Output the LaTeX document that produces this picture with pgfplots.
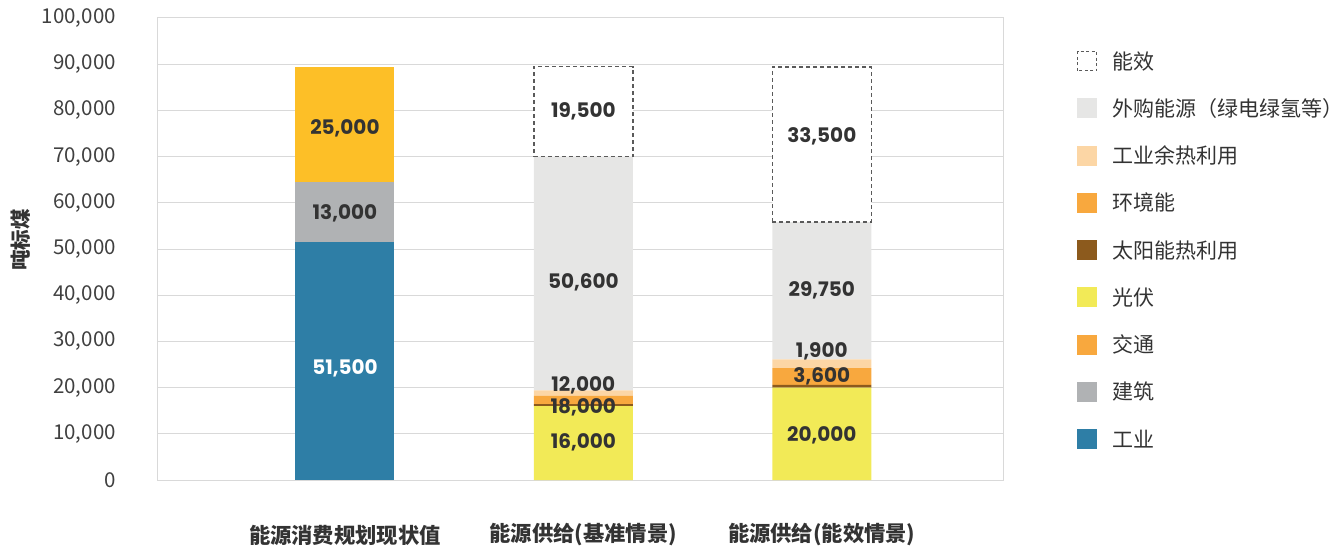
\documentclass[border=0pt]{standalone}
\usepackage{pgfplots}
\pgfplotsset{compat=1.18}
\usepackage{fontspec}
\setmainfont{Noto Sans CJK SC}
\newfontfamily\pop{Poppins}
\definecolor{cInd}{HTML}{2E7EA6}
\definecolor{cBld}{HTML}{B0B2B4}
\definecolor{cTrB}{HTML}{FDBF27}
\definecolor{cTrL}{HTML}{F8A83E}
\definecolor{cPV}{HTML}{F2EA57}
\definecolor{cSol}{HTML}{8C5A1D}
\definecolor{cEnv}{HTML}{F8A83E}
\definecolor{cHeat}{HTML}{FCD6A5}
\definecolor{cBuy}{HTML}{E6E6E5}
\definecolor{cDash}{HTML}{5A5A5A}
\definecolor{gridc}{HTML}{D9D9D9}
\definecolor{tickc}{HTML}{404040}
\definecolor{labc}{HTML}{333333}
\tikzset{lab/.style={font=\pop\bfseries\fontsize{20}{24}\selectfont, text=labc}}
\begin{document}
\begin{tikzpicture}[x=1pt,y=1pt]
\useasboundingbox (-158,-67) rectangle (1185,480);
\pgfplotsset{
  common/.style={
    at={(0pt,0pt)}, anchor=south west,
    scale only axis, width=845pt, height=462pt,
    ybar stacked, bar width=99pt,
    xmin=-0.784, xmax=2.76, ymin=0, ymax=100000,
    scaled ticks=false,
  }
}
\begin{axis}[common,
  xtick={0,1,2},
  xticklabels={能源消费规划现状值, 能源供给(基准情景), 能源供给(能效情景)},
  xticklabel style={anchor=center, yshift=-55pt, font=\bfseries\fontsize{21.3}{24}\selectfont, text=labc},
  ytick={0,10000,...,100000},
  yticklabel style={font=\fontsize{20.5}{24}\selectfont, text=tickc, inner sep=0pt, xshift=-42pt},
  major tick length=0pt,
  axis line style={draw=gridc, line width=1pt},
  ymajorgrids, grid style={gridc, line width=1pt},
  ylabel={吨标煤},
  ylabel style={at={(axis description cs:-0.162,0.52)}, anchor=center, font=\bfseries\fontsize{20.5}{24}\selectfont, text=labc},
  legend style={at={(axis description cs:1.0876,0.9286)}, anchor=north west, draw=none, fill=none,
     inner sep=0pt, font=\fontsize{21}{24}\selectfont, text=labc, row sep=27.25pt,
     nodes={inner sep=0pt, text height=18pt, text depth=2pt},
     /tikz/every odd column/.append style={column sep=15pt}},
  legend cell align=left,
  legend image code/.code={\draw[#1] (0.5pt,-9.5pt) rectangle (19.5pt,9.5pt);},
  /pgf/number format/fixed,
  /pgf/number format/1000 sep={,},
  /pgf/number format/assume math mode=true,
]
% stack: 工业, 建筑, 交通, 光伏, 太阳能热利用, 环境能, 工业余热利用, 外购能源
\addplot[fill=cInd, draw=none, forget plot] coordinates {(0,51500) (1,0) (2,0)};
\addplot[fill=cBld, draw=none, forget plot] coordinates {(0,13000) (1,0) (2,0)};
\addplot[fill=cTrB, draw=none, forget plot] coordinates {(0,25000) (1,0) (2,0)};
\addplot[fill=cPV, draw=none, forget plot] coordinates {(0,0) (1,16000) (2,20000)};
\addplot[fill=cSol, draw=none, forget plot] coordinates {(0,0) (1,400) (2,600)};
\addplot[fill=cEnv, draw=none, forget plot] coordinates {(0,0) (1,1800) (2,3600)};
\addplot[fill=cHeat, draw=none, forget plot] coordinates {(0,0) (1,1200) (2,1900)};
\addplot[fill=cBuy, draw=none, forget plot] coordinates {(0,0) (1,50600) (2,29750)};
\addlegendimage{fill=white, draw=cDash, dash pattern=on 3pt off 2.5pt, line width=1pt}
\addlegendentry{能效}
\addlegendimage{fill=cBuy, draw=cBuy, line width=1pt}
\addlegendentry{外购能源（绿电绿氢等）}
\addlegendimage{fill=cHeat, draw=cHeat, line width=1pt}
\addlegendentry{工业余热利用}
\addlegendimage{fill=cEnv, draw=cEnv, line width=1pt}
\addlegendentry{环境能}
\addlegendimage{fill=cSol, draw=cSol, line width=1pt}
\addlegendentry{太阳能热利用}
\addlegendimage{fill=cPV, draw=cPV, line width=1pt}
\addlegendentry{光伏}
\addlegendimage{fill=cTrL, draw=cTrL, line width=1pt}
\addlegendentry{交通}
\addlegendimage{fill=cBld, draw=cBld, line width=1pt}
\addlegendentry{建筑}
\addlegendimage{fill=cInd, draw=cInd, line width=1pt}
\addlegendentry{工业}
\end{axis}
\begin{axis}[common, hide axis]
\addplot[fill=white, draw=none, opacity=0, forget plot] coordinates {(1,70000) (2,55850)};
\addplot[fill=white, draw=cDash, dash pattern=on 4pt off 3pt, line width=1.5pt, forget plot] coordinates {(1,19500) (2,33500)};
\end{axis}
\begin{axis}[common, hide axis]
\addplot[draw=none, fill=none, forget plot] coordinates {(0,0) (1,0) (2,0)};
\node[lab, text=white] at (axis cs:0,24200) {51,500};
\node[lab] at (axis cs:0,57800) {13,000};
\node[lab] at (axis cs:0,76200) {25,000};
\node[lab] at (axis cs:1,8200) {16,000};
\node[lab] at (axis cs:1,15800) {18,000};
\node[lab] at (axis cs:1,20560) {12,000};
\node[lab] at (axis cs:1,42860) {50,600};
\node[lab] at (axis cs:1,79870) {19,500};
\node[lab] at (axis cs:2,9740) {20,000};
\node[lab] at (axis cs:2,22500) {3,600};
\node[lab] at (axis cs:2,27900) {1,900};
\node[lab] at (axis cs:2,41130) {29,750};
\node[lab] at (axis cs:2,74460) {33,500};
\end{axis}
\end{tikzpicture}
\end{document}
